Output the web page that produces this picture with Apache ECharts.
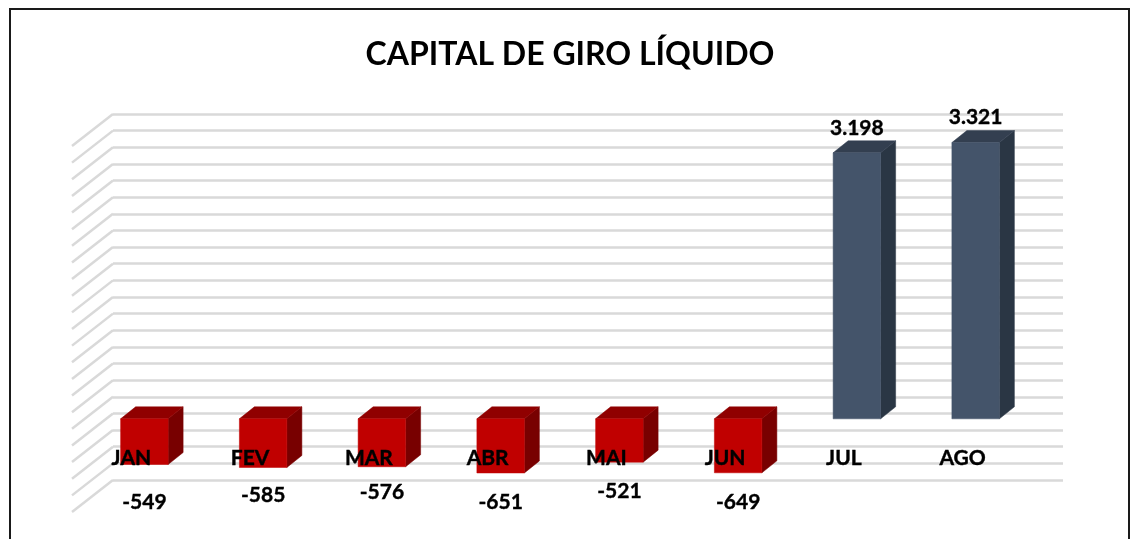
<!DOCTYPE html>
<html>
<head>
<meta charset="utf-8">
<style>html,body{margin:0;padding:0;background:#fff}#c{width:1130px;height:539px}</style>
<script src="https://cdn.jsdelivr.net/npm/echarts@6/dist/echarts.min.js"></script>
</head>
<body>
<div id="c"></div>
<script>
const titleText = 'CAPITAL DE GIRO LÍQUIDO';
const categories = ['JAN','FEV','MAR','ABR','MAI','JUN','JUL','AGO'];
const values = [-549,-585,-576,-651,-521,-649,3198,3321];
const valueLabels = ['-549','-585','-576','-651','-521','-649','3.198','3.321'];
const gridValues = [-1000,-800,-600,-400,-200,0,200,400,600,800,1000,1200,1400,1600,1800,2000,2200,2400,2600,2800,3000,3200,3400];

// Pseudo-3D geometry (pixels) relative to the back wall
const wallDX = -41, wallDY = 32;      // floor depth
const frontDX = -28, frontDY = 22;    // bar front face
const backDX = -13, backDY = 10;      // bar back face
const labelGap = [38,27.5,26,29,29,29,25,25]; // label distance from bar end

const chart = echarts.init(document.getElementById('c'), null, {renderer:'canvas'});

function renderWall(params, api){
  const p = api.coord([0, api.value(0)]);
  const x0 = params.coordSys.x, y = p[1];
  return {type:'line', silent:true,
    shape:{x1:x0,y1:y,x2:x0+wallDX,y2:y+wallDY},
    style:{stroke:'#d9d9d9',lineWidth:2.5}};
}

function renderBar(params, api){
  const i = api.value(0), v = api.value(1);
  const pv = api.coord([i,v]), p0 = api.coord([i,0]);
  const w = api.size([1,0])[0]*0.4;
  const pos = v>=0;
  const cols = pos ? ['#44546a','#333f50','#2a3644'] : ['#c00000','#900000','#780000'];
  const fx = pv[0]+frontDX-w/2;
  const fTop = Math.min(pv[1],p0[1])+frontDY, fBot = Math.max(pv[1],p0[1])+frontDY;
  const ox = backDX-frontDX, oy = backDY-frontDY;
  const endY = pv[1]+frontDY;
  return {type:'group',children:[
    {type:'polygon',shape:{points:[[fx+w,fTop],[fx+w+ox,fTop+oy],[fx+w+ox,fBot+oy],[fx+w,fBot]]},style:{fill:cols[2],stroke:cols[2],lineWidth:0.5}},
    {type:'polygon',shape:{points:[[fx,fTop],[fx+ox,fTop+oy],[fx+w+ox,fTop+oy],[fx+w,fTop]]},style:{fill:cols[1],stroke:cols[1],lineWidth:0.5}},
    {type:'rect',shape:{x:fx,y:fTop,width:w,height:fBot-fTop},style:{fill:cols[0],stroke:cols[0],lineWidth:0.5}},
    {type:'text',style:{text:valueLabels[i],x:fx+w/2,y:endY+(pos?-1:1)*labelGap[i],
      fill:'#000',stroke:'#000',lineWidth:0.4,font:'bold 21px Lato, Carlito, sans-serif',align:'center',verticalAlign:'middle'}}
  ]};
}

chart.setOption({
  animation:false,
  backgroundColor:'#fff',
  title:{text:titleText,left:565,top:50,textAlign:'center',textVerticalAlign:'middle',
    textStyle:{fontFamily:'Lato, Carlito, sans-serif',fontWeight:'bold',fontSize:32,color:'#000'}},
  graphic:[{type:'rect',z:-1,silent:true,shape:{x:10,y:9,width:1119,height:560},
    style:{fill:'none',stroke:'#1a1a1a',lineWidth:2}}],
  grid:{left:113,right:67,top:114,bottom:59,outerBoundsMode:'none',containLabel:false},
  xAxis:{type:'category',data:categories,z:10,
    axisLine:{show:false},axisTick:{show:false},splitLine:{show:false},
    axisLabel:{interval:0,inside:true,margin:11,padding:[0,82,0,0],color:'#000',textBorderColor:'#000',textBorderWidth:0.4,
      fontFamily:'Lato, Carlito, sans-serif',fontWeight:'bold',fontSize:21}},
  yAxis:{type:'value',min:-1000,max:3400,interval:200,z:0,
    axisLine:{show:false},axisTick:{show:false},axisLabel:{show:false},
    splitLine:{show:true,lineStyle:{color:'#d9d9d9',width:2.5}}},
  series:[
    {type:'custom',name:'wall',silent:true,z:1,renderItem:renderWall,clip:false,
      encode:{y:0},data:gridValues.map(v=>[v])},
    {type:'custom',name:'Capital de giro',z:3,renderItem:renderBar,clip:false,
      encode:{x:0,y:1},data:values.map((v,i)=>[i,v])}
  ]
});
</script>
</body>
</html>
